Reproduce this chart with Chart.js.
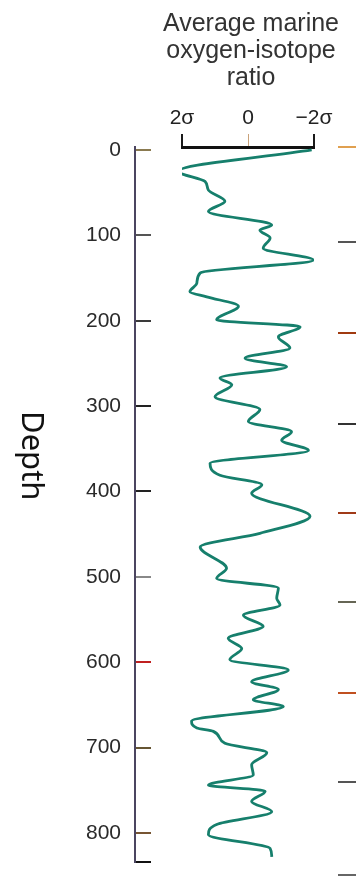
<!DOCTYPE html>
<html>
<head>
<meta charset="utf-8">
<title>Average marine oxygen-isotope ratio</title>
<script src="https://cdn.jsdelivr.net/npm/chart.js@4.4.1/dist/chart.umd.min.js"></script>
<style>
  body { margin: 0; background: #fff; }
  .wrap { position: relative; width: 356px; height: 884px; }
  #grafica { display: block; }
  #depthLabel {
    position: absolute; left: 49px; top: 411px;
    font: 31px 'Noto Sans', sans-serif; line-height: 1; color: #111;
    white-space: nowrap; transform-origin: left top; transform: rotate(90deg);
  }
</style>
</head>
<body>
<div class="wrap">
  <canvas id="grafica" width="356" height="884"></canvas>
  <div id="depthLabel">Depth</div>
</div>
<script>
// depth down the core and the isotope ratio (in sigma)
const depths = [0, 25, 37, 47, 60, 72, 88, 94, 103, 115, 129, 144, 156, 166, 172, 183, 199, 207,
  219, 232, 244, 254, 267, 275, 289, 304, 318, 330, 340, 352, 367, 381, 392, 402, 429, 449,
  465, 490, 502, 513, 525, 533, 545, 558, 572, 584, 597, 609, 623, 632, 644, 652, 669, 677,
  681, 695, 706, 720, 732, 744, 751, 763, 775, 790, 802, 818, 828];
const ratios = [-1.93, 2.11, 1.30, 1.20, 0.70, 1.20, -0.72, -0.36, -0.67, -0.46, -1.98, 1.45, 1.55,
  1.76, 1.25, 0.29, 0.95, -1.58, -0.92, -1.27, 0.09, -1.17, 0.85, 0.49, 1.00, -0.36, -0.01,
  -1.32, -1.02, -1.83, 1.15, 0.85, -0.42, -0.11, -1.88, -0.36, 1.45, 0.65, 0.95, -0.92, -0.87,
  -0.97, 0.14, -0.46, 0.60, 0.19, 0.55, -1.22, -0.11, -0.92, -0.16, -1.07, 1.71, 1.55, 1.05,
  0.70, -0.57, -0.11, -0.16, 1.20, -0.52, -0.11, -0.72, 0.95, 1.20, -0.67, -0.72];

// axes
const depthTicks = [0, 100, 200, 300, 400, 500, 600, 700, 800, 834];
const sigmaTicks = [2, 0, -2];
const sigmaLabels = { 2: '2σ', 0: '0', '-2': '−2σ' };
// ticks of the neighbouring panel, cut off at the right edge
const panelTicks = [-3.5, 108, 214, 321, 425, 530, 636, 740, 849];

const depthTickColors = ['#8a7a50', '#555', '#3a3a3a', '#222', '#222', '#888', '#c02020', '#665533', '#775533', '#111'];
const panelTickColors = ['#e0a050', '#555', '#a03a10', '#333', '#a03a18', '#666655', '#c05020', '#555', '#666'];

const puntos = depths.map((d, i) => ({ x: ratios[i], y: d }));
const font = 'Liberation Sans';
const depthRange = { min: -3.5, max: 834 };
const useTicks = (list) => (s) => { s.ticks = list.map((v) => ({ value: v })); };
const noPadding = (s) => { s.paddingTop = 0; s.paddingBottom = 0; };

// empty axes that only hold space so the title can stay wide
const spacer = (w, pos) => ({
  type: 'linear',
  position: pos,
  afterFit: (s) => { s.width = w; },
  ticks: { display: false },
  grid: { display: false },
  border: { display: false },
});

// eslint-disable-next-line no-undef, no-new
new Chart(document.querySelector('#grafica'), {
  type: 'line',
  data: {
    datasets: [{
      data: puntos,
      borderColor: '#167f6c',
      borderWidth: 2.8,
      pointRadius: 0,
      cubicInterpolationMode: 'monotone',
      fill: false,
    }],
  },
  options: {
    responsive: false,
    animation: false,
    indexAxis: 'y',
    layout: { padding: { left: 146, right: 0, top: 0, bottom: 22 } },
    plugins: {
      legend: { display: false },
      tooltip: { enabled: false },
      title: {
        display: true,
        text: ['Average marine', 'oxygen-isotope', 'ratio'],
        color: '#333',
        font: { family: font, size: 25, weight: 'normal', lineHeight: 1.08 },
        padding: { top: 11, bottom: 16 },
      },
    },
    scales: {
      x: {
        type: 'linear',
        position: 'top',
        reverse: true,
        min: -2,
        max: 2,
        afterFit: (s) => { s.height = 39; },
        afterBuildTicks: useTicks(sigmaTicks),
        ticks: {
          padding: 3,
          color: '#222',
          font: { family: font, size: 21 },
          callback: (v) => sigmaLabels[v],
        },
        grid: {
          drawOnChartArea: false,
          tickLength: 13,
          color: (c) => (c.tick && c.tick.value === 0 ? '#c9a27a' : '#1a1a1a'),
          lineWidth: (c) => (c.tick && c.tick.value === 0 ? 1 : 2),
        },
        border: { color: '#111', width: 3 },
      },
      // depth axis line and its inward ticks
      y: {
        type: 'linear',
        position: { x: 3.42 },
        reverse: true,
        ...depthRange,
        afterBuildTicks: useTicks(depthTicks),
        afterFit: noPadding,
        ticks: { display: false, autoSkip: false },
        grid: {
          drawOnChartArea: false,
          tickLength: -17,
          lineWidth: 2,
          color: (c) => depthTickColors[c.index],
        },
        border: { color: '#4b4560', width: 2 },
      },
      // depth numbers, set a little left of the axis line
      yLab: {
        type: 'linear',
        position: { x: 3.848 },
        reverse: true,
        ...depthRange,
        afterBuildTicks: useTicks(depthTicks),
        afterFit: noPadding,
        ticks: {
          autoSkip: false,
          padding: 0,
          color: '#2a2a2a',
          font: { family: font, size: 21 },
          callback: (v) => (v === 834 ? '' : String(v)),
        },
        grid: { display: false },
        border: { display: false },
      },
      y2: {
        type: 'linear',
        position: { x: -2.727 },
        reverse: true,
        ...depthRange,
        afterBuildTicks: useTicks(panelTicks),
        afterFit: noPadding,
        ticks: { display: false, autoSkip: false },
        grid: {
          drawOnChartArea: false,
          tickLength: -18,
          lineWidth: 2,
          color: (c) => panelTickColors[c.index],
        },
        border: { display: false },
      },
      padL: spacer(36, 'left'),
      padR: spacer(42, 'right'),
    },
  },
});
</script>
</body>
</html>
